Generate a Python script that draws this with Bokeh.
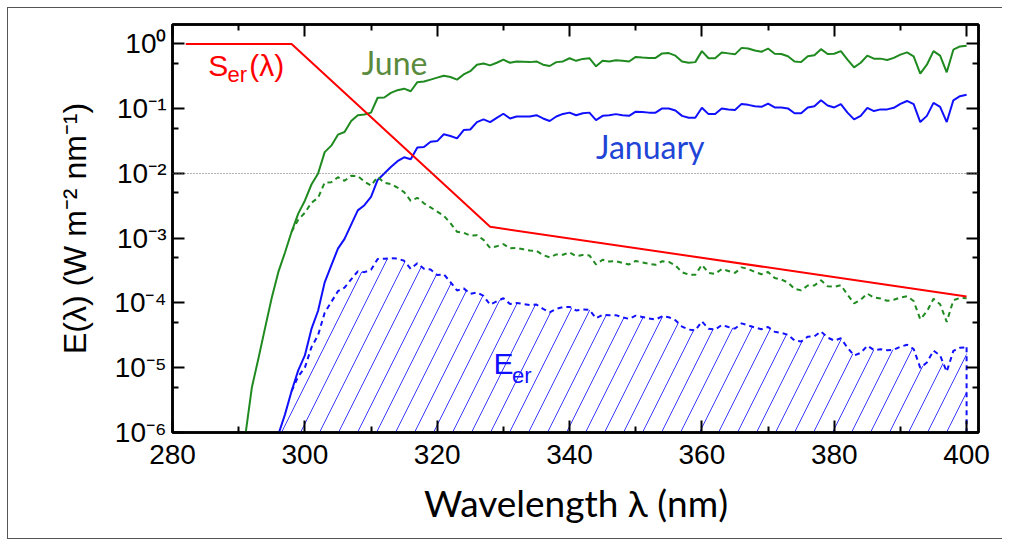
import numpy as np
from bokeh.plotting import figure
from bokeh.models import (FixedTicker, LinearAxis, LogAxis, Label, Span,
                          CustomJSTickFormatter, Range1d)
from bokeh.embed import file_html
from bokeh.resources import INLINE

# ---------------- data ----------------
# solar spectral irradiance, log10(E) in W m^-2 nm^-1, 1 nm steps
wl_june = list(range(291, 401))
june_log10 = [
    -6.05, -5.3, -4.85, -4.38, -3.92, -3.52, -3.22, -2.9, -2.62, -2.42,
    -2.17, -2.0, -1.67, -1.57, -1.40, -1.36, -1.19, -1.10, -1.09, -1.06,
    -0.83, -0.826, -0.754, -0.713, -0.69, -0.73, -0.59, -0.58, -0.55, -0.52,
    -0.49, -0.51, -0.55, -0.47, -0.42, -0.32, -0.30, -0.33, -0.29, -0.24,
    -0.29, -0.27, -0.275, -0.28, -0.27, -0.32, -0.34, -0.28, -0.27, -0.22,
    -0.26, -0.23, -0.22, -0.345, -0.257, -0.27, -0.25, -0.26, -0.27, -0.20,
    -0.21, -0.215, -0.215, -0.145, -0.14, -0.18, -0.27, -0.29, -0.28, -0.11,
    -0.22, -0.22, -0.13, -0.145, -0.16, -0.06, -0.07, -0.10, -0.12, -0.07,
    -0.15, -0.155, -0.19, -0.27, -0.28, -0.19, -0.175, -0.08, -0.155, -0.15,
    -0.11, -0.24, -0.36, -0.29, -0.18, -0.226, -0.226, -0.246, -0.215, -0.165,
    -0.13, -0.19, -0.457, -0.32, -0.11, -0.18, -0.437, -0.088, -0.037, -0.026,
]
wl_jan = list(range(296, 401))
jan_log10 = [
    -6.03, -5.72, -5.36, -5.04, -4.81,
    -4.40, -4.12, -3.68, -3.42, -3.16, -3.01, -2.79, -2.57, -2.49, -2.36,
    -2.10, -2.0, -1.90, -1.81, -1.75, -1.78, -1.60, -1.59, -1.51, -1.50,
    -1.395, -1.42, -1.457, -1.33, -1.32, -1.206, -1.165, -1.206, -1.14, -1.077,
    -1.15, -1.12, -1.12, -1.12, -1.10, -1.15, -1.19, -1.12, -1.08, -1.06,
    -1.10, -1.07, -1.06, -1.175, -1.11, -1.10, -1.083, -1.10, -1.11, -1.046,
    -1.05, -1.06, -1.06, -0.995, -0.995, -1.026, -1.11, -1.14, -1.14, -0.985,
    -1.083, -1.08, -0.995, -1.01, -1.02, -0.925, -0.94, -0.96, -0.97, -0.92,
    -0.98, -0.98, -0.995, -1.07, -1.07, -0.98, -0.96, -0.87, -0.95, -0.98,
    -0.93, -1.06, -1.165, -1.11, -0.985, -1.036, -1.01, -1.01, -0.985, -0.925,
    -0.88, -0.93, -1.206, -1.11, -0.91, -0.97, -1.206, -0.87, -0.806, -0.785,
]
# erythemally weighted irradiance E_er, log10
wl_eer_june = list(range(298, 401))
eer_june_log10 = [
    -2.90, -2.714, -2.608,
    -2.452, -2.376, -2.14, -2.134, -2.058, -2.112, -2.036, -2.04, -2.124, -2.188,
    -2.052, -2.142, -2.164, -2.217, -2.288, -2.422, -2.376, -2.46, -2.524, -2.588,
    -2.652, -2.766, -2.90, -2.914, -2.958, -2.952, -3.026, -3.15, -3.125, -3.09,
    -3.155, -3.15, -3.17, -3.19, -3.195, -3.26, -3.295, -3.25, -3.255, -3.22,
    -3.275, -3.26, -3.265, -3.405, -3.332, -3.36, -3.355, -3.38, -3.405, -3.35,
    -3.375, -3.395, -3.41, -3.355, -3.365, -3.42, -3.525, -3.56, -3.565, -3.41,
    -3.535, -3.55, -3.475, -3.505, -3.535, -3.45, -3.475, -3.52, -3.555, -3.52,
    -3.615, -3.635, -3.685, -3.78, -3.805, -3.73, -3.73, -3.65, -3.74, -3.75,
    -3.725, -3.87, -4.005, -3.95, -3.855, -3.916, -3.931, -3.966, -3.95, -3.915,
    -3.895, -3.97, -4.252, -4.13, -3.935, -4.02, -4.292, -3.958, -3.922, -3.926,
]
wl_eer_jan = list(range(296, 401))
eer_jan_log10 = [
    -6.03, -5.72, -5.36, -5.134, -4.998,
    -4.682, -4.496, -4.15, -3.984, -3.818, -3.762, -3.636, -3.51, -3.524, -3.488,
    -3.322, -3.316, -3.31, -3.314, -3.348, -3.472, -3.386, -3.47, -3.484, -3.568,
    -3.557, -3.676, -3.807, -3.774, -3.858, -3.838, -3.891, -4.026, -3.975, -3.927,
    -4.015, -4.0, -4.015, -4.03, -4.025, -4.09, -4.145, -4.09, -4.065, -4.06,
    -4.115, -4.10, -4.105, -4.235, -4.185, -4.19, -4.188, -4.22, -4.245, -4.196,
    -4.215, -4.24, -4.255, -4.205, -4.22, -4.266, -4.365, -4.41, -4.425, -4.285,
    -4.398, -4.41, -4.34, -4.37, -4.395, -4.315, -4.345, -4.38, -4.405, -4.37,
    -4.445, -4.46, -4.49, -4.58, -4.595, -4.52, -4.515, -4.44, -4.535, -4.58,
    -4.545, -4.69, -4.81, -4.77, -4.66, -4.726, -4.715, -4.73, -4.72, -4.675,
    -4.645, -4.71, -5.001, -4.92, -4.735, -4.81, -5.061, -4.74, -4.691, -4.685,
]
# erythemal action spectrum S_er (corner points of the red line)
ser_wl = [282, 298, 328, 400]
ser_val = [1.0, 1.0, 1.5e-3, 1.26e-4]

x_ticks = [280, 300, 320, 340, 360, 380, 400]
x_minor = [290, 310, 330, 350, 370, 390]
y_ticks = [1e-6, 1e-5, 1e-4, 1e-3, 1e-2, 1e-1, 1.0]
y_minor = [5e-6, 5e-5, 5e-4, 5e-3, 5e-2, 5e-1]

assert len(wl_june) == len(june_log10)
assert len(wl_jan) == len(jan_log10)
assert len(wl_eer_june) == len(eer_june_log10)
assert len(wl_eer_jan) == len(eer_jan_log10)

june = 10 ** np.array(june_log10)
jan = 10 ** np.array(jan_log10)
eer_june = 10 ** np.array(eer_june_log10)
eer_jan = 10 ** np.array(eer_jan_log10)

# ---------------- figure ----------------
p = figure(frame_width=806, frame_height=408, y_axis_type="log", title=None,
           x_range=Range1d(280, 401.8), y_range=Range1d(1e-6, 2.0),
           output_backend="svg", toolbar_location=None,
           min_border_left=164, min_border_right=24,
           min_border_top=16, min_border_bottom=106)
p.styles = {"border-top": "1px solid #555", "border-left": "1px solid #555",
            "border-bottom": "1px solid #555", "border-right": "none",
            "margin-left": "7px", "margin-top": "7px"}
p.xgrid.visible = False
p.ygrid.visible = False
p.outline_line_color = "black"
p.outline_line_width = 2.5

xt = FixedTicker(ticks=x_ticks, minor_ticks=x_minor)
yt = FixedTicker(ticks=y_ticks, minor_ticks=y_minor)
sup_fmt = CustomJSTickFormatter(code="""
const s = {'-':'\u207b','0':'\u2070','1':'\u00b9','2':'\u00b2','3':'\u00b3',
           '4':'\u2074','5':'\u2075','6':'\u2076','7':'\u2077','8':'\u2078','9':'\u2079'};
const e = Math.round(Math.log10(tick));
return '10' + String(e).split('').map(c => s[c]).join('');
""")
blank_fmt = CustomJSTickFormatter(code="return '';")

def style_axis(ax, labels=True):
    ax.axis_line_width = 2.5
    ax.axis_line_color = "black"
    ax.major_tick_in = 12
    ax.major_tick_out = 0
    ax.minor_tick_in = 6
    ax.minor_tick_out = 0
    ax.major_tick_line_width = 2
    ax.minor_tick_line_width = 2
    ax.major_tick_line_color = "black"
    ax.minor_tick_line_color = "black"
    if labels:
        ax.major_label_text_font = "Liberation Sans"
        ax.major_label_text_font_size = "28px"
        ax.major_label_text_color = "black"
    else:
        ax.formatter = blank_fmt
        ax.major_label_standoff = 0
        ax.major_label_text_font_size = "1px"
        ax.major_label_text_color = None

xa = p.xaxis[0]
xa.ticker = xt
style_axis(xa)
xa.major_label_standoff = 12
xa.axis_label = "Wavelength \u03bb (nm)"
xa.axis_label_text_font = "Lato"
xa.axis_label_text_font_size = "37px"
xa.axis_label_text_font_style = "normal"
xa.axis_label_text_color = "black"
xa.axis_label_standoff = 13

ya = p.yaxis[0]
ya.ticker = yt
ya.formatter = sup_fmt
style_axis(ya)
ya.major_label_standoff = 6
ya.axis_label = "E(\u03bb) (W m\u207b\u00b2 nm\u207b\u00b9)"
ya.axis_label_text_font = "Liberation Sans"
ya.axis_label_text_font_size = "32px"
ya.axis_label_text_font_style = "normal"
ya.axis_label_text_color = "black"
ya.axis_label_standoff = 18

top = LinearAxis(ticker=xt)
style_axis(top, labels=False)
p.add_layout(top, "above")
right = LogAxis(ticker=yt)
style_axis(right, labels=False)
p.add_layout(right, "right")

# dotted reference line at 1e-2
p.add_layout(Span(location=y_ticks[4], dimension="width", line_color="#666666",
                  line_width=1, line_dash="1 2"))

# hatched E_er (January) area
p.varea(x=wl_eer_jan, y1=y_ticks[0], y2=eer_jan, fill_color=None,
        hatch_pattern="/", hatch_color="#3a3aff", hatch_weight=1, hatch_scale=38)

# solid spectra
p.line(wl_june, june, line_color="#1f8a1f", line_width=2)
p.line(wl_jan, jan, line_color="#1010ff", line_width=2)

# dashed E_er curves
p.line(wl_eer_june, eer_june, line_color="#1f8a1f", line_width=2, line_dash="5 4")
p.line(wl_eer_jan[2:], eer_jan[2:], line_color="#1010ff", line_width=2, line_dash="5 4")
p.line([wl_eer_jan[-1], wl_eer_jan[-1]], [eer_jan[-1], y_ticks[0]],
       line_color="#1010ff", line_width=2, line_dash="5 4")

# action spectrum
p.line(ser_wl, ser_val, line_color="#ff0000", line_width=2)

# text annotations
def lab(x, y, t, size, color, font="Liberation Sans"):
    p.add_layout(Label(x=x, y=y, text=t, text_font=font, text_font_size=size,
                       text_color=color, text_baseline="alphabetic", text_align="left"))

lab(285.4, 10 ** -0.336, "S", "30px", "#ff0000")
lab(288.3, 10 ** -0.476, "er", "22px", "#ff0000")
lab(291.6, 10 ** -0.336, "(\u03bb)", "30px", "#ff0000")
lab(308.6, 10 ** -0.286, "June", "32px", "#5a8a3c", "Lato")
lab(344.0, 10 ** -1.576, "January", "32px", "#1f45d6", "Lato")
lab(328.5, 10 ** -4.936, "E", "30px", "#1010ff")
lab(331.3, 10 ** -5.116, "er", "22px", "#1010ff")

open("out.html", "w", encoding="utf-8").write(file_html(p, INLINE))
